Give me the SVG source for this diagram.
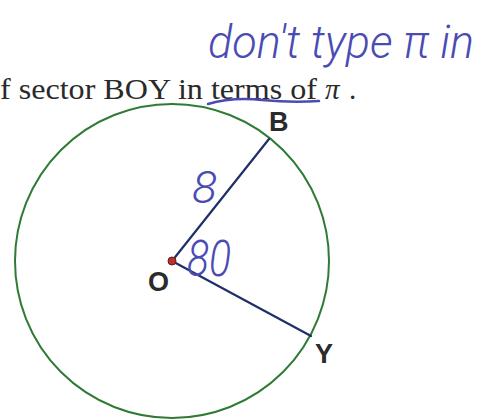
<svg xmlns="http://www.w3.org/2000/svg" width="501" height="420" viewBox="0 0 501 420">
<style>
.print{font-family:"Liberation Serif","Times New Roman",serif;fill:#2a2a2a;font-size:29px}
.lbl{font-family:"Liberation Sans",Arial,sans-serif;font-weight:bold;font-size:27px;fill:#2b2b2b}
.hand{font-family:Roboto,"Open Sans","Liberation Sans",sans-serif;font-weight:300;font-style:italic;fill:#4b4bb4}
.radius{stroke:#1f3068;stroke-width:2.2;fill:none;stroke-linecap:round}
.ink{stroke:#4b4bb4;stroke-width:2.5;fill:none;stroke-linecap:round}
</style>
<rect width="501" height="420" fill="#ffffff"/>
<g id="handwritten-note">
<text class="hand" x="208" y="58" font-size="46" textLength="266" lengthAdjust="spacingAndGlyphs">don't type π in</text>
</g>
<g id="question-text">
<text class="print" x="0" y="99" textLength="317" lengthAdjust="spacingAndGlyphs">f sector BOY in terms of</text>
<text class="print" x="325" y="99" font-style="italic">π</text>
<text class="print" x="349" y="99">.</text>
<path class="ink" d="M208,104 Q232,97 262,100 T319,101"/>
</g>
<g id="circle">
<circle cx="172" cy="261" r="157" fill="none" stroke="#2f7a35" stroke-width="2"/>
</g>
<g id="connectors">
<line class="radius" x1="172" y1="261" x2="269" y2="139"/>
<line class="radius" x1="172" y1="261" x2="311" y2="336"/>
</g>
<g id="node-O">
<circle cx="172" cy="261" r="4" fill="#b8312f" stroke="#6a1a1a" stroke-width="1"/>
<text class="lbl" x="148" y="291">O</text>
</g>
<g id="node-B">
<text class="lbl" x="269" y="131">B</text>
</g>
<g id="node-Y">
<text class="lbl" x="315" y="363">Y</text>
</g>
<g id="annotations">
<text class="hand" x="192" y="203" font-size="44" textLength="25" lengthAdjust="spacingAndGlyphs">8</text>
<text class="hand" x="187" y="276" font-size="50" textLength="44" lengthAdjust="spacingAndGlyphs">80</text>
</g>
</svg>
